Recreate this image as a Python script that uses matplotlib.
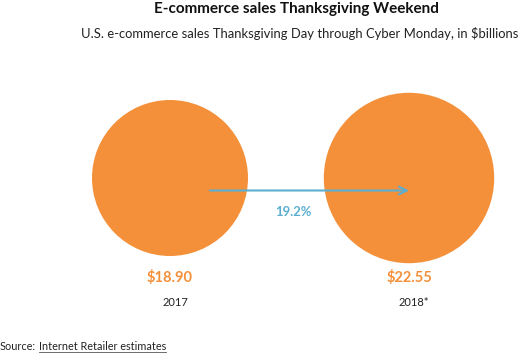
import numpy as np
import matplotlib
matplotlib.use('Agg')
import matplotlib.pyplot as plt
from matplotlib.patches import Circle

years = ['2017', '2018*']
sales = [18.90, 22.55]
growth_label = '19.2%'

orange = '#F4903A'
blue = '#5BAED0'

plt.rcParams['font.family'] = ['Lato', 'DejaVu Sans']

fig = plt.figure(figsize=(5.2, 3.53), dpi=100)
ax = fig.add_axes([0, 0, 1, 1])
ax.set_xlim(0, 520)
ax.set_ylim(353, 0)
ax.axis('off')

# circle area proportional to value
centers_x = [170, 409]
cy = 178
scale = 78 / np.sqrt(sales[0])

for i in range(len(sales)):
    r = scale * np.sqrt(sales[i])
    ax.add_patch(Circle((centers_x[i], cy), r, color=orange, lw=0))
    ax.text(centers_x[i], 277, '$%.2f' % sales[i], ha='center', va='center',
            color=orange, fontsize=10.5, fontweight='bold')
    ax.text(centers_x[i] + 5, 302, years[i], ha='center', va='center',
            color='#222222', fontsize=8)

ax.annotate('', xy=(centers_x[1], 190.5), xytext=(210, 190.5),
            arrowprops=dict(arrowstyle='->', color=blue, lw=1.5,
                            mutation_scale=14, shrinkA=0, shrinkB=0))
ax.text(293, 212, growth_label, ha='center', va='center',
        color=blue, fontsize=9.4, fontweight='bold')

ax.text(296, 9, 'E-commerce sales Thanksgiving Weekend', ha='center', va='center',
        fontsize=11, fontweight='bold', color='#111111')
ax.text(518, 33, 'U.S. e-commerce sales Thanksgiving Day through Cyber Monday, in $billions',
        ha='right', va='center', fontsize=9.4, color='#222222')

pre = ax.text(0, 347, 'Source:', ha='left', va='center', fontsize=7.8, color='#222222')
fig.canvas.draw()
inv = ax.transData.inverted()
pb = pre.get_window_extent()
px1 = inv.transform([[pb.x1, pb.y0]])[0][0]
src = ax.text(px1 + 3, 347, 'Internet Retailer estimates', ha='left', va='center',
              fontsize=7.8, color='#222222')
fig.canvas.draw()
bb = src.get_window_extent()
(x0, y0), (x1, y1) = inv.transform([[bb.x0, bb.y0], [bb.x1, bb.y0]])
ax.plot([x0, x1], [y0 - 0.5, y1 - 0.5], color='#555555', lw=0.6)

fig.savefig('out.png', dpi=100)
